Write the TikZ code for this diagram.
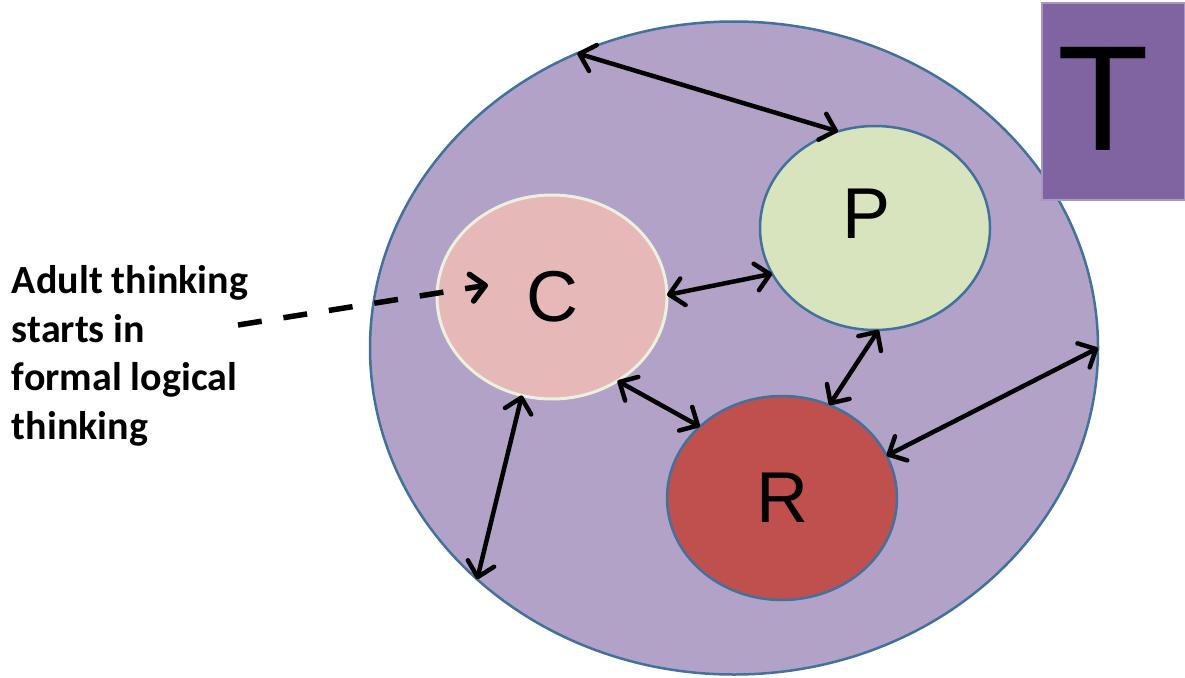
\documentclass[tikz,border=0pt]{standalone}
\usepackage{fontspec}
\usetikzlibrary{arrows.meta,shapes.geometric}
\newfontfamily\lblfont{Carlito}
\newfontfamily\letterfont{Liberation Sans}
\definecolor{fieldfill}{HTML}{B2A2C7}
\definecolor{edgeblue}{HTML}{41719C}
\definecolor{tboxfill}{HTML}{8064A2}
\definecolor{tboxedge}{HTML}{A898C0}
\definecolor{cfill}{HTML}{E6B9B8}
\definecolor{cedge}{HTML}{EBF1DE}
\definecolor{pfill}{HTML}{D7E4BD}
\definecolor{rfill}{HTML}{C0504D}
\begin{document}
\begin{tikzpicture}[x=1pt,y=-1pt,
  every node/.style={inner sep=0pt, outer sep=0pt},
  bubble/.style={ellipse, draw=edgeblue, line width=2.5pt,
    minimum width=230pt, minimum height=204pt,
    font=\letterfont\fontsize{72}{72}\selectfont},
  link/.style={line width=4.5pt, line cap=round,
    {Straight Barb[round,length=14pt,width=27pt]}-{Straight Barb[round,length=14pt,width=27pt]}},
  dashlink/.style={line width=5.5pt, dash pattern=on 24pt off 22pt,
    -{Straight Barb[round,length=14pt,width=27pt]}}
]
\useasboundingbox (0,0) rectangle (1185,677);

\node[ellipse, fill=fieldfill, draw=edgeblue, line width=2.5pt,
      minimum width=728pt, minimum height=653pt] (field) at (734,348) {};

\node[rectangle, fill=tboxfill, draw=tboxedge, line width=1.5pt,
      minimum width=143pt, minimum height=197pt,
      label={[font=\letterfont\fontsize{150}{150}\selectfont, xshift=-10pt, yshift=3pt]center:T}] (tbox) at (1113.5,101.5) {};

\node[bubble, fill=cfill, draw=cedge, line width=3pt] (C) at (552,297) {C};
\node[bubble, fill=pfill,
      label={[font=\letterfont\fontsize{72}{72}\selectfont, xshift=-9pt, yshift=14pt]center:P}] (P) at (875,228) {};
\node[bubble, fill=rfill] (R) at (782,498) {R};

\node[font=\lblfont\bfseries\fontsize{40}{48.5}\selectfont, align=left, anchor=west]
  (note) at (12,356) {Adult thinking\\starts in\\formal logical\\thinking};

\draw[link] (field.118.2) -- (P.111.7);
\draw[link] (C.1) -- (P.-156.9);
\draw[link] (P.-88) -- (R.63.7);
\draw[link] (C.-52) -- (R.139);
\draw[link] (C.-107.6) -- (field.-138.2);
\draw[link] (R.22.7) -- (field.0);

\coordinate (ds) at (238,325);
\coordinate (de) at (488,285);
\draw[dashlink] (ds) -- (de);
\end{tikzpicture}
\end{document}
